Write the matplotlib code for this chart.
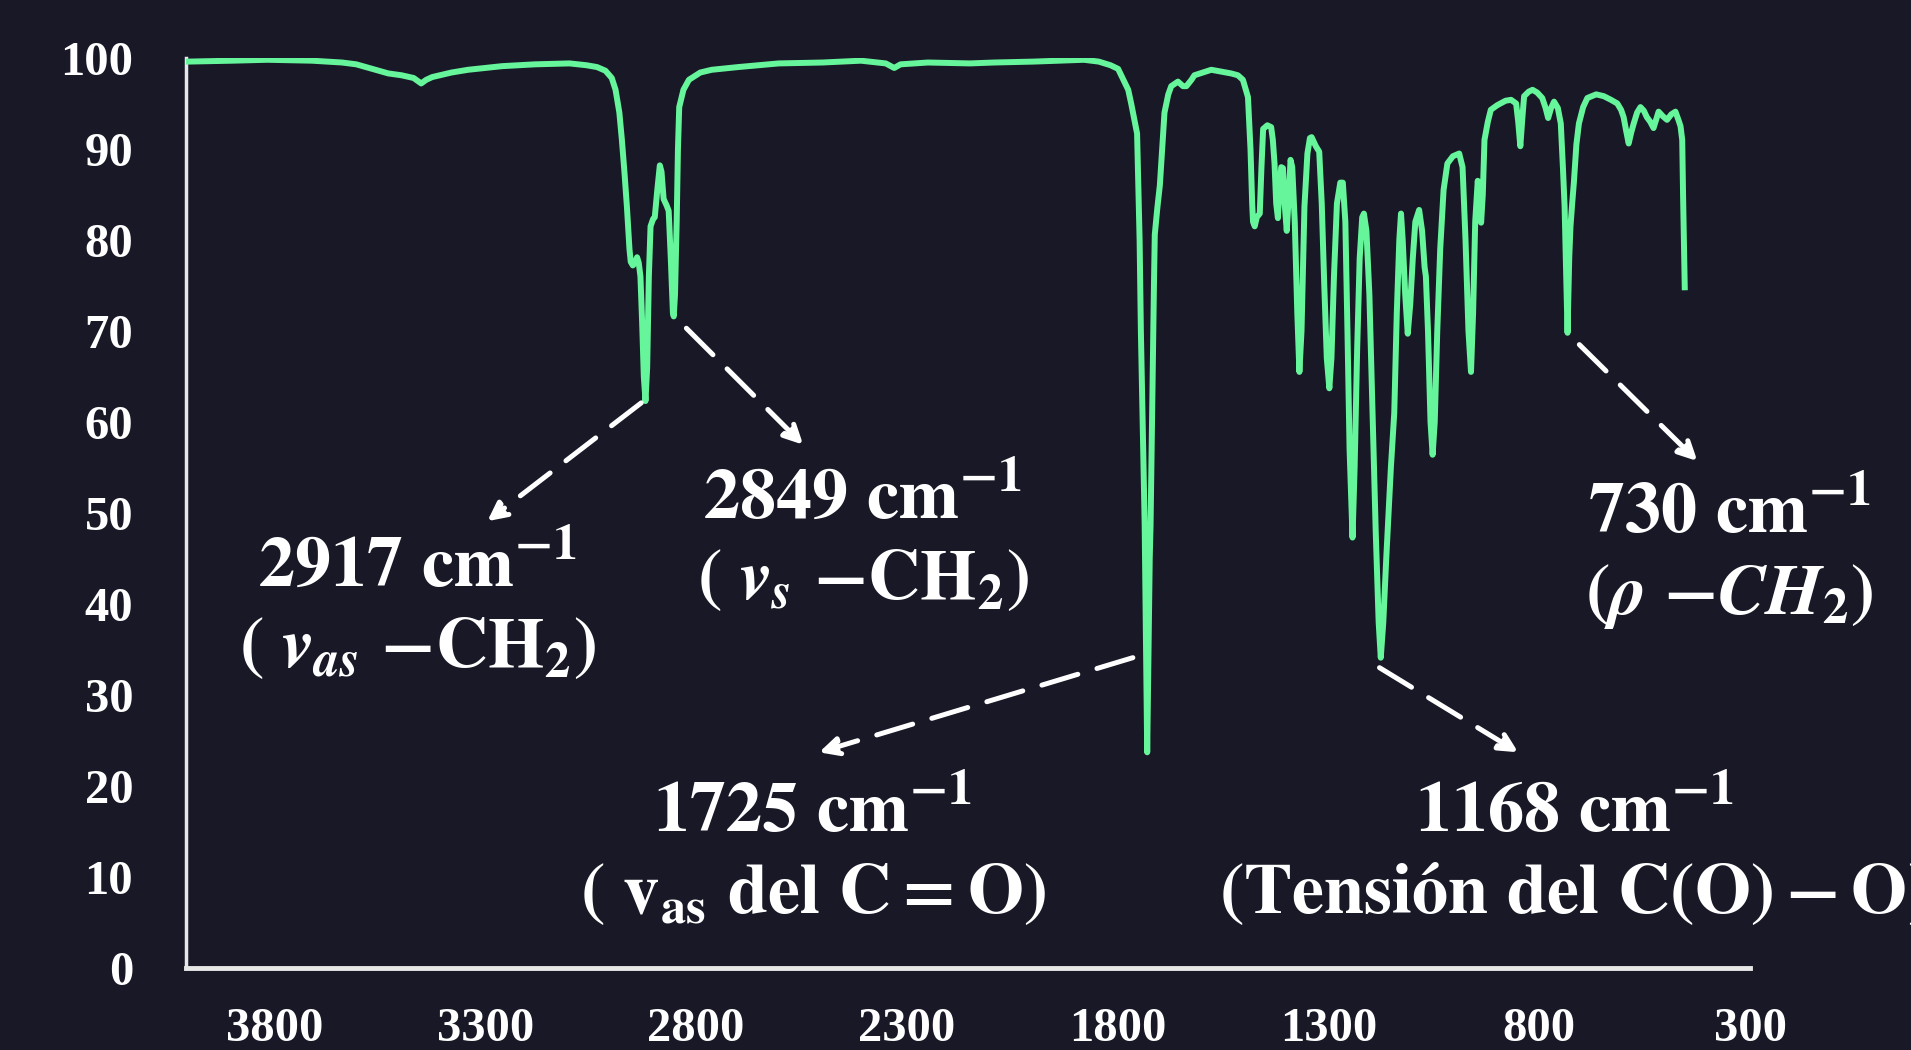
"""
FTIR spectrum with annotated CH2 / C=O / C(O)-O bands (dark slide style).
"""

import matplotlib
import matplotlib.pyplot as plt

matplotlib.rcParams.update({
    "font.family": "serif",
    "font.serif": ["Liberation Serif", "DejaVu Serif"],
    "font.weight": "bold",
    "mathtext.fontset": "stix",
    "figure.dpi": 100,
})

BG = "#181827"
LINE = "#66F59A"
AXIS = "#e8e8e8"

# Wavenumber (cm-1) and transmittance (%).
WAVENUMBER = [
    4005, 3900, 3817, 3711, 3640, 3606, 3560, 3530, 3499, 3470, 3452, 3440, 3426,
    3380, 3341, 3260, 3182, 3100, 3060, 3035, 3015, 3000, 2991, 2982, 2976, 2970,
    2964, 2958, 2955, 2950, 2945, 2940, 2936, 2932, 2928, 2924, 2920, 2916, 2912,
    2908, 2902, 2898, 2892, 2886, 2882, 2877, 2870, 2865, 2860, 2855, 2853, 2850,
    2846, 2843, 2840, 2830, 2817, 2790, 2763, 2700, 2604, 2500, 2409, 2350, 2330,
    2315, 2250, 2150, 2093, 2000, 1880, 1845, 1817, 1799, 1775, 1768, 1754, 1748,
    1745, 1740, 1736, 1733, 1730, 1727, 1724, 1722, 1718, 1714, 1712, 1706, 1700,
    1689, 1680, 1673, 1657, 1645, 1637, 1625, 1618, 1578, 1531, 1515, 1503, 1491,
    1485, 1481, 1479, 1475, 1470, 1463, 1459, 1455, 1445, 1436, 1432, 1428, 1424,
    1420, 1416, 1412, 1408, 1404, 1399, 1394, 1390, 1386, 1380, 1374, 1369, 1364,
    1360, 1357, 1350, 1344, 1340, 1330, 1322, 1316, 1310, 1304, 1298, 1293, 1287,
    1280, 1272, 1266, 1260, 1255, 1250, 1243, 1238, 1232, 1226, 1220, 1216, 1210,
    1203, 1196, 1188, 1181, 1176, 1170, 1163, 1152, 1144, 1138, 1132, 1128, 1124,
    1118, 1112, 1106, 1100, 1094, 1085, 1078, 1072, 1069, 1064, 1058, 1053, 1048,
    1042, 1035, 1027, 1018, 1005, 990, 982, 975, 968, 962, 957, 952, 946, 942,
    938, 934, 930, 922, 915, 900, 880, 867, 855, 850, 845, 840, 836, 825, 816,
    805, 793, 785, 779, 772, 765, 756, 749, 744, 740, 736, 733, 729, 726, 722,
    718, 712, 706, 696, 686, 665, 647, 630, 615, 606, 600, 594, 588, 582, 576,
    568, 560, 552, 545, 537, 529, 523, 517, 507, 497, 487, 477, 470, 465, 461,
    459, 457, 455,
]
TRANSMITTANCE = [
    99.6, 99.7, 99.8, 99.7, 99.5, 99.3, 98.7, 98.3, 98.1, 97.8, 97.2, 97.6, 97.9,
    98.4, 98.7, 99.1, 99.3, 99.4, 99.2, 99.0, 98.6, 97.8, 96.5, 94.0, 91.0, 87.5,
    83.6, 79.0, 77.6, 77.2, 77.5, 78.1, 77.5, 76.0, 71.0, 65.0, 62.3, 66.0, 76.0,
    81.5, 82.3, 82.5, 85.5, 88.2, 87.5, 84.5, 83.8, 83.2, 78.0, 72.0, 71.6, 74.0,
    82.0, 90.0, 94.6, 96.5, 97.6, 98.4, 98.7, 99.0, 99.4, 99.5, 99.7, 99.4, 98.9,
    99.3, 99.5, 99.4, 99.5, 99.6, 99.8, 99.6, 99.2, 98.8, 96.5, 95.0, 91.7, 80.0,
    70.0, 58.0, 48.7, 36.0, 23.7, 34.0, 45.0, 48.7, 62.0, 75.0, 80.6, 83.5, 86.0,
    94.0, 96.0, 96.9, 97.4, 96.9, 96.9, 97.6, 98.1, 98.7, 98.3, 98.1, 97.6, 95.7,
    90.0, 84.0, 82.0, 81.5, 82.5, 82.9, 88.0, 92.2, 92.6, 92.4, 91.0, 88.4, 84.0,
    82.4, 86.0, 88.0, 87.9, 84.0, 81.0, 85.0, 88.8, 88.0, 82.0, 72.0, 65.5, 70.0,
    78.0, 83.7, 89.5, 91.2, 91.3, 90.3, 89.7, 84.0, 75.0, 67.0, 63.7, 67.0, 76.0,
    84.0, 86.3, 86.3, 82.0, 70.0, 57.0, 47.3, 55.0, 68.0, 78.0, 82.5, 82.9, 81.0,
    74.0, 62.0, 48.0, 38.0, 34.1, 38.0, 45.0, 55.0, 61.0, 72.0, 80.0, 82.9, 80.0,
    74.0, 69.7, 73.0, 78.0, 82.0, 83.3, 81.0, 77.0, 76.0, 70.0, 60.0, 56.4, 60.0,
    70.0, 79.0, 85.5, 88.4, 89.2, 89.5, 88.0, 80.0, 70.0, 65.5, 72.0, 82.0, 86.5, 85.0,
    81.9, 85.0, 91.0, 93.0, 94.3, 94.8, 95.3, 95.4, 95.0, 93.0, 90.3, 93.5, 95.8, 96.3, 96.5,
    96.2, 95.6, 94.5, 93.4, 94.5, 95.2, 94.5, 92.8, 88.0, 83.7, 76.0, 69.8, 78.0, 81.5, 84.0,
    86.3, 90.5, 92.8, 94.6, 95.6, 96.0, 95.8, 95.4, 95.0, 94.3, 93.5, 92.0, 90.6, 91.8, 92.8,
    94.0, 94.6, 94.2, 93.5, 93.0, 92.3, 93.2, 94.1, 93.6, 93.2, 93.8, 94.1, 93.2, 92.5, 91.0,
    85.0, 80.0, 74.8,
]

X_TICKS = [3800, 3300, 2800, 2300, 1800, 1300, 800, 300]
Y_TICKS = [0, 10, 20, 30, 40, 50, 60, 70, 80, 90, 100]

# label lines, text anchor (wn, T), arrow tail (wn, T), arrow head (wn, T)
BANDS = [
    (r"$\mathbf{2917\ cm^{-1}}$", r"$\mathbf{(}\ \boldsymbol{v_{as}}\ \mathbf{{-}CH_2)}$",
     (3460, 44.0), (2930, 62.1), (3295, 49.1)),
    (r"$\mathbf{2849\ cm^{-1}}$", r"$\mathbf{(}\ \boldsymbol{v_{s}}\ \mathbf{{-}CH_2)}$",
     (2405, 51.5), (2823, 70.3), (2546, 57.5)),
    (r"$\mathbf{1725\ cm^{-1}}$", r"$\mathbf{(\ v_{as}\ del\ C=O)}$",
     (2523, 17.0), (1764, 34.1), (2508, 23.7)),
    (r"$\mathbf{1168\ cm^{-1}}$", r"$\mathbf{(Tensión\ del\ C(O)-O)}$",
     (717, 17.0), (1179, 33.0), (850, 23.7)),
    (r"$\mathbf{730\ cm^{-1}}$", r"$\boldsymbol{(\rho\ {-}CH_2)}$",
     (349, 49.8), (705, 68.5), (425, 55.7)),
]


def make_plot(out_path):
    fig = plt.figure(figsize=(19.11, 10.5), facecolor=BG)
    ax = fig.add_axes([0.0973, 0.0781, 0.8185, 0.8667], facecolor=BG)

    ax.plot(WAVENUMBER, TRANSMITTANCE, color=LINE, lw=4.3, solid_joinstyle="round",
            zorder=3)

    ax.set_xlim(4010, 305)
    ax.set_ylim(0, 100)
    ax.set_xticks(X_TICKS)
    ax.set_yticks(Y_TICKS)
    ax.tick_params(length=0, labelsize=35, colors="white")
    ax.tick_params(axis="x", pad=28)
    ax.tick_params(axis="y", pad=38)
    for lab in ax.get_xticklabels() + ax.get_yticklabels():
        lab.set_fontweight("bold")

    for side in ("top", "right"):
        ax.spines[side].set_visible(False)
    ax.spines["left"].set_color(AXIS)
    ax.spines["left"].set_linewidth(2.5)
    ax.spines["bottom"].set_color(AXIS)
    ax.spines["bottom"].set_linewidth(3.5)

    for line1, line2, (tx, ty), tail, head in BANDS:
        ax.annotate("", xy=head, xytext=tail,
                    arrowprops=dict(arrowstyle="-|>", color="white", lw=3.6,
                                    linestyle=(0, (7.5, 4.0)), mutation_scale=28,
                                    shrinkA=0, shrinkB=0))
        ax.text(tx, ty, line1, color="white", fontsize=52, ha="center", va="center",
                clip_on=False)
        ax.text(tx, ty - 9.0, line2, color="white", fontsize=52, ha="center",
                va="center", clip_on=False)

    fig.savefig(out_path, dpi=100, facecolor=BG)
    plt.close(fig)


if __name__ == "__main__":
    make_plot("out.png")
